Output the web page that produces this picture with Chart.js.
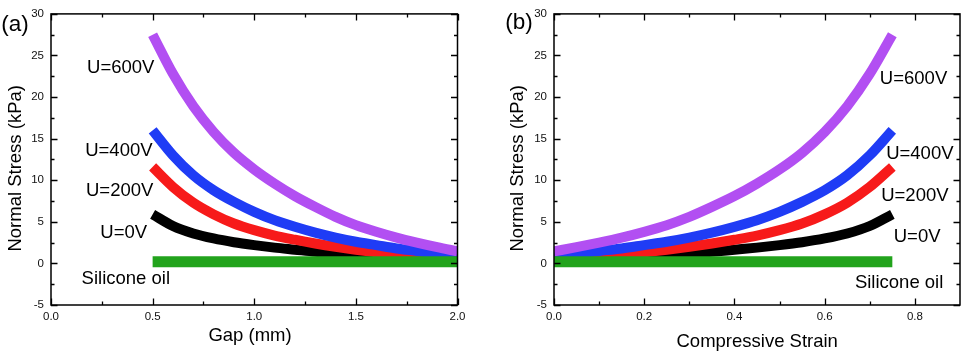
<!DOCTYPE html>
<html>
<head>
<meta charset="utf-8">
<script src="https://cdn.jsdelivr.net/npm/chart.js@4.4.1/dist/chart.umd.min.js"></script>
<style>
    html, body { margin: 0; padding: 0; background: #fff; }
    #wrap { position: relative; width: 963px; height: 354px; overflow: hidden; }
    canvas { position: absolute; top: 0; }
    #chartA { left: 0; }
    #chartB { left: 480px; }
</style>
</head>
<body>
<div id="wrap">
    <canvas id="chartA" width="480" height="354"></canvas>
    <canvas id="chartB" width="483" height="354"></canvas>
</div>
<script>
(() => {
    'use strict';

    // ---- Data ----

    // Panel (a): normal stress vs gap.
    const gapMm = [0.5, 0.6, 0.7, 0.8, 0.9, 1.0, 1.1, 1.2, 1.3, 1.4, 1.5, 1.6, 1.7, 1.8, 1.9, 2.0];
    // Panel (b): the same measurements vs compressive strain.
    const strain = [0.75, 0.7, 0.65, 0.6, 0.55, 0.5, 0.45, 0.4, 0.35, 0.3, 0.25, 0.2, 0.15, 0.1, 0.05, 0.0];

    const stress600 = [27.5, 22.8, 18.9, 15.8, 13.3, 11.3, 9.6, 8.1, 6.8, 5.6, 4.6, 3.8, 3.1, 2.5, 1.95, 1.45];
    const stress400 = [16.0, 13.0, 10.6, 8.8, 7.4, 6.2, 5.2, 4.4, 3.7, 3.1, 2.6, 2.2, 1.8, 1.5, 1.2, 0.9];
    const stress200 = [11.6, 9.2, 7.3, 5.9, 4.8, 4.0, 3.35, 2.85, 2.4, 2.0, 1.65, 1.35, 1.1, 0.9, 0.7, 0.55];
    const stress0 = [5.9, 4.5, 3.6, 3.0, 2.55, 2.2, 1.9, 1.65, 1.4, 1.2, 1.0, 0.85, 0.7, 0.6, 0.5, 0.4];
    const stressOil = [0.2, 0.2, 0.2, 0.2, 0.2, 0.2, 0.2, 0.2, 0.2, 0.2, 0.2, 0.2, 0.2, 0.2, 0.2, 0.2];

    const seriesNames = ['Silicone oil', 'U=600V', 'U=400V', 'U=200V', 'U=0V'];

    // Axis ticks.
    const yTicks = [-5, 0, 5, 10, 15, 20, 25, 30];
    const yMinor = [-2.5, 2.5, 7.5, 12.5, 17.5, 22.5, 27.5];
    const xTicksA = [0, 0.5, 1.0, 1.5, 2.0];
    const xMinorA = [0.25, 0.75, 1.25, 1.75];
    const xTicksB = [0, 0.2, 0.4, 0.6, 0.8];
    const xMinorB = [0.1, 0.3, 0.5, 0.7];

    // In-plot labels, anchored in data units (x, y of text baseline centre).
    const labelPosA = [[0.368, -2.5], [0.343, 22.9], [0.334, 12.95], [0.338, 8.08], [0.358, 3.0]];
    const labelPosB = [[0.765, -2.93], [0.797, 21.54], [0.811, 12.56], [0.80, 7.5], [0.805, 2.61]];

    // ---- Styling ----

    const FONT = '"Liberation Sans", Arial, Helvetica, sans-serif';
    const COLOURS = ['#22a31c', '#b24ff2', '#1f3cf5', '#f71a1a', '#000000'];
    const WIDTHS = [11, 10, 10, 10, 10];

    function buildDatasets(xs) {
        const ys = [stressOil, stress600, stress400, stress200, stress0];
        return ys.map((col, i) => ({
            label: seriesNames[i],
            data: xs.map((x, k) => ({ x, y: col[k] })),
            borderColor: COLOURS[i],
            backgroundColor: COLOURS[i],
            borderWidth: WIDTHS[i],
            borderCapStyle: 'butt',
            pointRadius: 0,
            fill: false,
            cubicInterpolationMode: 'monotone',
        }));
    }

    // Full box frame, inward ticks on all four sides, titles and labels.
    function decorations(cfg) {
        return {
            id: 'decor',
            afterDraw(chart) {
                const { ctx, chartArea: a } = chart;
                const sx = chart.scales.x;
                const sy = chart.scales.y;
                ctx.save();
                ctx.strokeStyle = '#000';
                ctx.lineWidth = 1.3;
                ctx.beginPath();
                const xt = (vals, len) => vals.forEach((v) => {
                    const px = Math.round(sx.getPixelForValue(v)) + 0.5;
                    ctx.moveTo(px, a.bottom); ctx.lineTo(px, a.bottom - len);
                    ctx.moveTo(px, a.top); ctx.lineTo(px, a.top + len);
                });
                const yt = (vals, len) => vals.forEach((v) => {
                    const py = Math.round(sy.getPixelForValue(v)) + 0.5;
                    ctx.moveTo(a.left, py); ctx.lineTo(a.left + len, py);
                    ctx.moveTo(a.right, py); ctx.lineTo(a.right - len, py);
                });
                xt(cfg.xMajor, 6.5);
                xt(cfg.xMinor, 3.5);
                yt(yTicks, 6.5);
                yt(yMinor, 3.5);
                ctx.stroke();

                ctx.lineWidth = 1.5;
                ctx.strokeRect(a.left, a.top, a.right - a.left, a.bottom - a.top);

                ctx.fillStyle = '#000';
                ctx.textBaseline = 'alphabetic';
                ctx.textAlign = 'center';
                ctx.font = `18.5px ${FONT}`;
                cfg.labels.forEach(([lx, ly], i) => {
                    ctx.fillText(seriesNames[i], sx.getPixelForValue(lx), sy.getPixelForValue(ly));
                });
                ctx.fillText(cfg.xTitle, cfg.xTitleX, cfg.xTitleY);

                ctx.save();
                ctx.translate(cfg.yTitleX, cfg.yTitleY);
                ctx.rotate(-Math.PI / 2);
                ctx.fillText('Normal Stress (kPa)', 0, 0);
                ctx.restore();

                ctx.font = `22.5px ${FONT}`;
                ctx.fillText(cfg.letter, cfg.letterX, cfg.letterY);
                ctx.restore();
            },
        };
    }

    function makePanel(id, xs, cfg) {
        const tickFont = { family: FONT, size: 11.5 };
        return new Chart(document.getElementById(id), {
            type: 'line',
            data: { datasets: buildDatasets(xs) },
            options: {
                responsive: false,
                animation: false,
                layout: { padding: { left: 0, right: cfg.padRight, top: 6, bottom: 0 } },
                plugins: { legend: { display: false }, tooltip: { enabled: false } },
                scales: {
                    x: {
                        type: 'linear',
                        min: cfg.xMin,
                        max: cfg.xMax,
                        afterBuildTicks: (s) => { s.ticks = cfg.xMajor.map((v) => ({ value: v })); },
                        afterFit: (s) => { s.height = 49; },
                        ticks: {
                            callback: (v) => Number(v).toFixed(1),
                            font: tickFont,
                            color: '#111',
                            padding: 5,
                            maxRotation: 0,
                            autoSkip: false,
                        },
                        grid: { display: false, drawTicks: false },
                        border: { display: false },
                    },
                    y: {
                        type: 'linear',
                        min: -5,
                        max: 30,
                        afterBuildTicks: (s) => { s.ticks = yTicks.map((v) => ({ value: v })); },
                        afterFit: (s) => { s.width = cfg.yWidth; },
                        ticks: {
                            callback: (v) => String(v),
                            font: tickFont,
                            color: '#111',
                            padding: 7,
                            autoSkip: false,
                        },
                        grid: { display: false, drawTicks: false },
                        border: { display: false },
                    },
                },
            },
            plugins: [decorations(cfg)],
        });
    }

    makePanel('chartA', gapMm, {
        xMin: 0, xMax: 2, xMajor: xTicksA, xMinor: xMinorA,
        yWidth: 51, padRight: 22.5,
        labels: labelPosA,
        xTitle: 'Gap (mm)', xTitleX: 250, xTitleY: 340.5,
        yTitleX: 20.5, yTitleY: 168.3,
        letter: '(a)', letterX: 15, letterY: 30.5,
    });

    makePanel('chartB', strain, {
        xMin: 0, xMax: 0.9, xMajor: xTicksB, xMinor: xMinorB,
        yWidth: 74, padRight: 3,
        labels: labelPosB,
        xTitle: 'Compressive Strain', xTitleX: 277.2, xTitleY: 347,
        yTitleX: 43.2, yTitleY: 168.3,
        letter: '(b)', letterX: 39, letterY: 28.6,
    });
})();
</script>
</body>
</html>
